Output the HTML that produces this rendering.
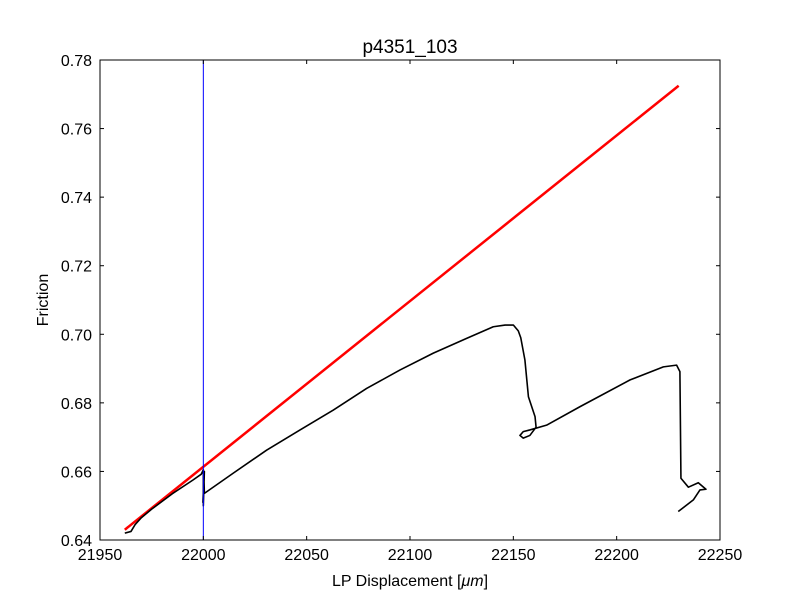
<!DOCTYPE html>
<html><head><meta charset="utf-8"><style>
body{margin:0;background:#fff}
svg text{font-family:"Liberation Sans",sans-serif;fill:#000}
</style></head><body>
<svg id="chart" width="800" height="600" xmlns="http://www.w3.org/2000/svg"></svg>
<script>
const xTicks=[21950,22000,22050,22100,22150,22200,22250];
const yTicks=[0.64,0.66,0.68,0.70,0.72,0.74,0.76,0.78];
const frictionX=[21962,21965,21967,21970,21975,21985,21995,21999,22000,22000,22000.5,21999.8,22000.3,22000.5,22014.5,22030.6,22046.8,22062.9,22079,22095.2,22111.3,22127.4,22140.3,22146,22150,22152.4,22153.6,22155.6,22157.3,22160.5,22161,22158,22154.8,22153.2,22154.8,22158,22166.1,22182.3,22206.5,22222.6,22229,22230.6,22231.1,22234.7,22239.5,22243.2,22240.3,22237.1,22229.8];
const frictionY=[0.6420,0.6425,0.6445,0.6465,0.6490,0.6535,0.6575,0.6592,0.6605,0.6500,0.6600,0.6510,0.6580,0.6536,0.6595,0.6662,0.6721,0.6779,0.6842,0.6896,0.6945,0.6988,0.7022,0.7027,0.7027,0.7010,0.6990,0.6925,0.6818,0.6760,0.6729,0.6705,0.6697,0.6705,0.6716,0.6721,0.6735,0.6789,0.6867,0.6905,0.6910,0.6891,0.6580,0.6554,0.6567,0.6548,0.6546,0.6517,0.6483];
const fitX=[21962,22230];
const fitY=[0.6430,0.7725];
const markerX=[22000];
const L=100,R=720,T=60,B=540,x0=21950,x1=22250,y0=0.64,y1=0.78;
const sx=v=>L+(v-x0)/(x1-x0)*(R-L);
const sy=v=>B-(v-y0)/(y1-y0)*(B-T);
const svg=document.getElementById('chart');
const NS='http://www.w3.org/2000/svg';
function mk(t,a){const e=document.createElementNS(NS,t);for(const k in a)e.setAttribute(k,a[k]);svg.appendChild(e);return e;}
let r=mk('rect',{x:L,y:T,width:R-L,height:B-T,fill:'#fff',stroke:'none'});


let pts=fitX.map((v,i)=>sx(v)+','+sy(fitY[i])).join(' ');
let fl=mk('polyline',{points:pts,fill:'none',stroke:'#ff0000','stroke-width':2.5});


pts=frictionX.map((v,i)=>sx(v).toFixed(2)+','+sy(frictionY[i]).toFixed(2)).join(' ');
let fc=mk('polyline',{points:pts,fill:'none',stroke:'#000','stroke-width':1.6,'stroke-linejoin':'round'});


markerX.forEach(v=>{let l=mk('line',{x1:sx(v),x2:sx(v),y1:T,y2:B,stroke:'#0000ff','stroke-width':1});

});
let fr=mk('rect',{x:L,y:T,width:R-L,height:B-T,fill:'none',stroke:'#000','stroke-width':1});


xTicks.forEach(v=>{const x=sx(v);
mk('line',{x1:x,x2:x,y1:B,y2:B-4,stroke:'#000'});mk('line',{x1:x,x2:x,y1:T,y2:T+4,stroke:'#000'});
let t=mk('text',{x:x,y:B+20,'text-anchor':'middle','font-size':16});t.textContent=v;

});
yTicks.forEach(v=>{const y=sy(v);
mk('line',{x1:L,x2:L+4,y1:y,y2:y,stroke:'#000'});mk('line',{x1:R,x2:R-4,y1:y,y2:y,stroke:'#000'});
let t=mk('text',{x:L-8,y:y+6,'text-anchor':'end','font-size':16});t.textContent=v.toFixed(2);

});
let tt=mk('text',{x:410,y:53,'text-anchor':'middle','font-size':19});tt.textContent='p4351_103';


let xl=mk('text',{x:410,y:586,'text-anchor':'middle','font-size':16});xl.innerHTML='LP Displacement [<tspan font-style="italic">μm</tspan>]';


let yl=mk('text',{x:48,y:300,'text-anchor':'middle','font-size':16,transform:'rotate(-90 48 300)'});yl.textContent='Friction';


</script>
</body></html>
